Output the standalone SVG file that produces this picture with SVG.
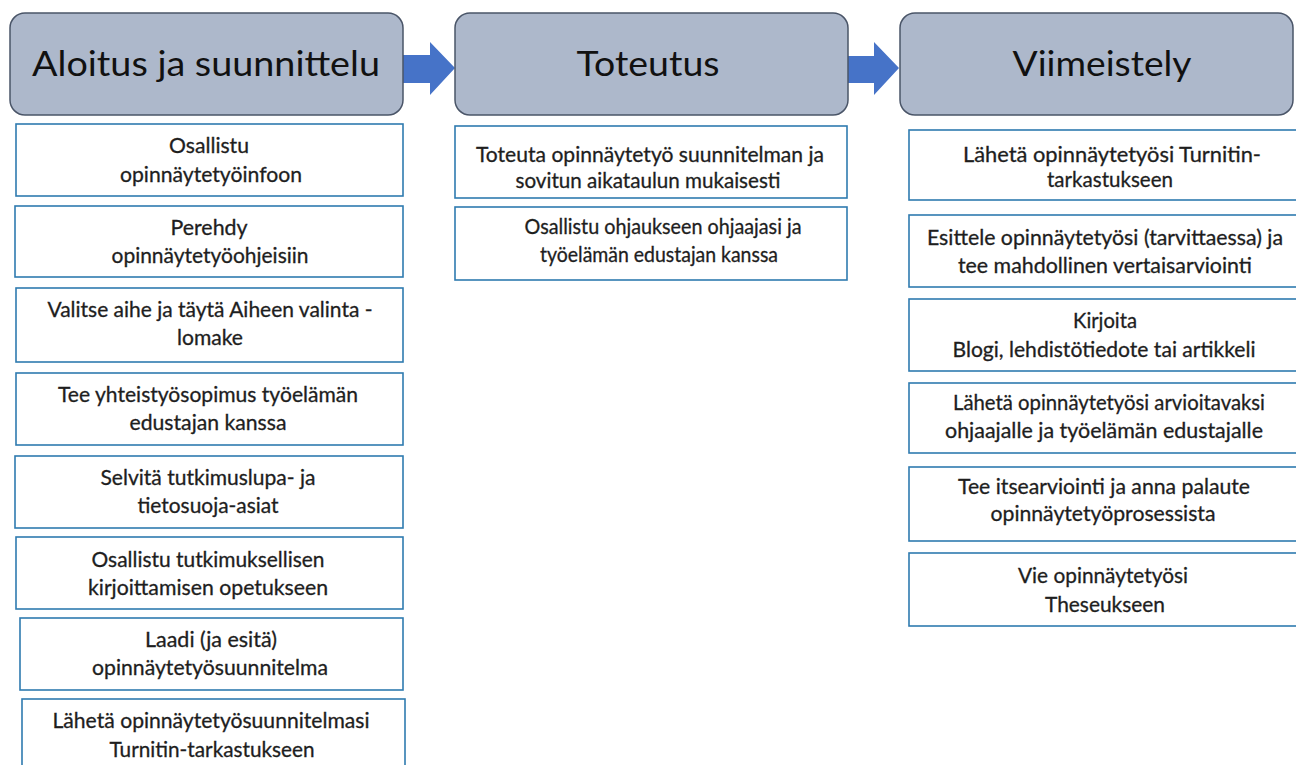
<svg xmlns="http://www.w3.org/2000/svg" width="1296" height="765" viewBox="0 0 1296 765">
<style>
.hdr{fill:#adb8cb;stroke:#4a5568;stroke-width:1.5}
.hdrt{font-family:Lato,"Liberation Sans",sans-serif;font-size:34px;fill:#111;text-anchor:middle}
.box{fill:#fff;stroke:#2f7bb0;stroke-width:1.6}
.t{font-family:Lato,"Liberation Sans",sans-serif;font-size:21px;fill:#1e1e1e;text-anchor:middle;stroke:#1e1e1e;stroke-width:0.3}
.arr{fill:#4673c8}
</style>
<rect width="1296" height="765" fill="#fff"/>
<g id="connectors">
<polygon class="arr" points="402,55 430,55 430,42 455,68 430,95 430,83 402,83"/>
<polygon class="arr" points="847,56 874,56 874,42 899,68 874,95 874,83 847,83"/>
</g>
<g id="h1"><rect class="hdr" x="10" y="13" width="393" height="102" rx="15"/><text class="hdrt" x="206" y="76" textLength="348" lengthAdjust="spacingAndGlyphs">Aloitus ja suunnittelu</text></g>
<g id="h2"><rect class="hdr" x="455" y="13" width="393" height="102" rx="15"/><text class="hdrt" x="648" y="76" textLength="143" lengthAdjust="spacingAndGlyphs">Toteutus</text></g>
<g id="h3"><rect class="hdr" x="900" y="13" width="393" height="102" rx="15"/><text class="hdrt" x="1102" y="76" textLength="179" lengthAdjust="spacingAndGlyphs">Viimeistely</text></g>

<g id="l1"><rect class="box" x="16" y="124" width="387" height="72"/><text class="t" x="209" y="153" textLength="80" lengthAdjust="spacingAndGlyphs">Osallistu</text><text class="t" x="211" y="182" textLength="182" lengthAdjust="spacingAndGlyphs">opinnäytetyöinfoon</text></g>
<g id="l2"><rect class="box" x="15" y="206" width="388" height="71"/><text class="t" x="209" y="235" textLength="77" lengthAdjust="spacingAndGlyphs">Perehdy</text><text class="t" x="210" y="263" textLength="197" lengthAdjust="spacingAndGlyphs">opinnäytetyöohjeisiin</text></g>
<g id="l3"><rect class="box" x="16" y="288" width="387" height="74"/><text class="t" x="210" y="317" textLength="325" lengthAdjust="spacingAndGlyphs">Valitse aihe ja täytä Aiheen valinta -</text><text class="t" x="210" y="345" textLength="66" lengthAdjust="spacingAndGlyphs">lomake</text></g>
<g id="l4"><rect class="box" x="16" y="373" width="387" height="72"/><text class="t" x="208" y="402" textLength="300" lengthAdjust="spacingAndGlyphs">Tee yhteistyösopimus työelämän</text><text class="t" x="208" y="430" textLength="157" lengthAdjust="spacingAndGlyphs">edustajan kanssa</text></g>
<g id="l5"><rect class="box" x="15" y="456" width="388" height="72"/><text class="t" x="208" y="485" textLength="215" lengthAdjust="spacingAndGlyphs">Selvitä tutkimuslupa- ja</text><text class="t" x="208" y="513" textLength="141" lengthAdjust="spacingAndGlyphs">tietosuoja-asiat</text></g>
<g id="l6"><rect class="box" x="16" y="537" width="387" height="72"/><text class="t" x="208" y="567" textLength="233" lengthAdjust="spacingAndGlyphs">Osallistu tutkimuksellisen</text><text class="t" x="208" y="595" textLength="240" lengthAdjust="spacingAndGlyphs">kirjoittamisen opetukseen</text></g>
<g id="l7"><rect class="box" x="20" y="618" width="383" height="72"/><text class="t" x="211" y="647" textLength="132" lengthAdjust="spacingAndGlyphs">Laadi (ja esitä)</text><text class="t" x="210" y="675" textLength="236" lengthAdjust="spacingAndGlyphs">opinnäytetyösuunnitelma</text></g>
<g id="l8"><rect class="box" x="22" y="699" width="383" height="80"/><text class="t" x="211" y="728" textLength="317" lengthAdjust="spacingAndGlyphs">Lähetä opinnäytetyösuunnitelmasi</text><text class="t" x="212" y="757" textLength="205" lengthAdjust="spacingAndGlyphs">Turnitin-tarkastukseen</text></g>

<g id="m1"><rect class="box" x="455" y="126" width="392" height="72"/><text class="t" x="650" y="162" textLength="348" lengthAdjust="spacingAndGlyphs">Toteuta opinnäytetyö suunnitelman ja</text><text class="t" x="648" y="188" textLength="265" lengthAdjust="spacingAndGlyphs">sovitun aikataulun mukaisesti</text></g>
<g id="m2"><rect class="box" x="455" y="207" width="392" height="73"/><text class="t" x="663" y="234" textLength="277" lengthAdjust="spacingAndGlyphs">Osallistu ohjaukseen ohjaajasi ja</text><text class="t" x="659" y="262" textLength="238" lengthAdjust="spacingAndGlyphs">työelämän edustajan kanssa</text></g>

<g id="r1"><rect class="box" x="909" y="130" width="400" height="70"/><text class="t" x="1112" y="162" textLength="298" lengthAdjust="spacingAndGlyphs">Lähetä opinnäytetyösi Turnitin-</text><text class="t" x="1110" y="187" textLength="126" lengthAdjust="spacingAndGlyphs">tarkastukseen</text></g>
<g id="r2"><rect class="box" x="909" y="215" width="400" height="72"/><text class="t" x="1105" y="245" textLength="356" lengthAdjust="spacingAndGlyphs">Esittele opinnäytetyösi (tarvittaessa) ja</text><text class="t" x="1105" y="273" textLength="294" lengthAdjust="spacingAndGlyphs">tee mahdollinen vertaisarviointi</text></g>
<g id="r3"><rect class="box" x="909" y="299" width="400" height="72"/><text class="t" x="1105" y="328" textLength="64" lengthAdjust="spacingAndGlyphs">Kirjoita</text><text class="t" x="1104" y="357" textLength="303" lengthAdjust="spacingAndGlyphs">Blogi, lehdistötiedote tai artikkeli</text></g>
<g id="r4"><rect class="box" x="909" y="383" width="400" height="70"/><text class="t" x="1109" y="410" textLength="312" lengthAdjust="spacingAndGlyphs">Lähetä opinnäytetyösi arvioitavaksi</text><text class="t" x="1104" y="438" textLength="318" lengthAdjust="spacingAndGlyphs">ohjaajalle ja työelämän edustajalle</text></g>
<g id="r5"><rect class="box" x="909" y="467" width="400" height="74"/><text class="t" x="1104" y="494" textLength="292" lengthAdjust="spacingAndGlyphs">Tee itsearviointi ja anna palaute</text><text class="t" x="1103" y="521" textLength="225" lengthAdjust="spacingAndGlyphs">opinnäytetyöprosessista</text></g>
<g id="r6"><rect class="box" x="909" y="553" width="400" height="73"/><text class="t" x="1103" y="583" textLength="170" lengthAdjust="spacingAndGlyphs">Vie opinnäytetyösi</text><text class="t" x="1105" y="612" textLength="120" lengthAdjust="spacingAndGlyphs">Theseukseen</text></g>
</svg>
